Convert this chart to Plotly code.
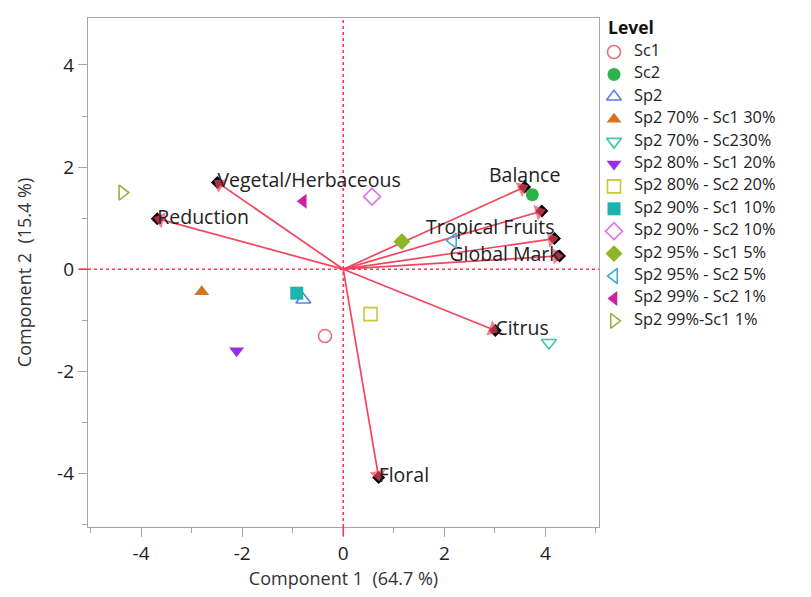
import plotly.graph_objects as go

# ---- data ----
groups = ["Sc1", "Sc2", "Sp2", "Sp2 70% - Sc1 30%", "Sp2 70% - Sc230%",
          "Sp2 80% - Sc1 20%", "Sp2 80% - Sc2 20%", "Sp2 90% - Sc1 10%",
          "Sp2 90% - Sc2 10%", "Sp2 95% - Sc1 5%", "Sp2 95% - Sc2 5%",
          "Sp2 99% - Sc2 1%", "Sp2 99%-Sc1 1%"]
score_pc1 = [-0.36, 3.74, -0.79, -2.80, 4.07, -2.11, 0.54, -0.92, 0.57, 1.16, 2.17, -0.79, -4.37]
score_pc2 = [-1.31, 1.46, -0.60, -0.44, -1.44, -1.60, -0.88, -0.47, 1.42, 0.54, 0.56, 1.33, 1.50]

attributes = ["Vegetal/Herbaceous", "Reduction", "Balance", "", "Tropical Fruits",
              "Global Mark", "Citrus", "Floral"]
load_pc1 = [-2.49, -3.68, 3.59, 3.93, 4.18, 4.28, 3.01, 0.70]
load_pc2 = [1.70, 0.99, 1.61, 1.14, 0.60, 0.26, -1.20, -4.08]

x_ticks = [-4, -2, 0, 2, 4]
x_tick_labels = ["-4", "-2", "0", "2", "4"]
y_ticks = [-4, -2, 0, 2, 4]
y_tick_labels = ["-4", "-2", "0", "2", "4"]

# ---- styles ----
symbols = ["circle-open", "circle", "triangle-up-open", "triangle-up", "triangle-down-open",
           "triangle-down", "square-open", "square", "diamond-open", "diamond",
           "triangle-left-open", "triangle-left", "triangle-right-open"]
colors = ["#E5707C", "#2DB34A", "#5A7FEA", "#D27420", "#3CC8A0",
          "#9A2EE6", "#C9C83A", "#1DB3AE", "#DE72EE", "#8DB524",
          "#3FA9DA", "#CF1FA3", "#9BB043"]
label_pos = ["middle right", "middle right", "top center", "middle right", "top left",
             "middle left", "middle right", "middle right"]
vec_color = "#F2455E"
font_family = "Open Sans, Noto Sans, sans-serif"
text_color = "#222222"

W, H = 811, 597
ML, MR, MT, MB = 88, 0, 18, 70
plot_right_px = 599
area_w = W - ML - MR
area_h = H - MT - MB
main_dom = (plot_right_px - ML) / area_w

fig = go.Figure()

# vectors
for ax, ay in zip(load_pc1, load_pc2):
    fig.add_trace(go.Scatter(
        x=[0, ax], y=[0, ay], mode="lines",
        line=dict(color=vec_color, width=1.7),
        showlegend=False, hoverinfo="skip"))

fig.add_trace(go.Scatter(
    x=load_pc1, y=load_pc2, mode="markers",
    marker=dict(symbol="diamond", size=10, color="black"),
    showlegend=False, hoverinfo="skip"))

for ax, ay in zip(load_pc1, load_pc2):
    fig.add_trace(go.Scatter(
        x=[0, ax], y=[0, ay], mode="markers",
        marker=dict(symbol=["circle", "triangle-up"], size=[0, 14], color=vec_color,
                    angleref="previous", standoff=[0, 3], line=dict(width=0)),
        showlegend=False, hoverinfo="skip"))

fig.add_trace(go.Scatter(
    x=load_pc1, y=load_pc2, mode="text", text=attributes,
    textposition=label_pos,
    textfont=dict(family=font_family, size=19.5, color=text_color),
    showlegend=False, hoverinfo="skip"))

# scores
for g, sx, sy, sym, col in zip(groups, score_pc1, score_pc2, symbols, colors):
    fig.add_trace(go.Scatter(
        x=[sx], y=[sy], mode="markers", name=g, showlegend=False,
        marker=dict(symbol=sym, size=13, color=col,
                    line=dict(color=col, width=1.6 if "open" in sym else 0))))

# ---- manual legend (own hidden axes, pixel units) ----
leg_marker_x = 15
leg_text_x = 35
leg_first_y = 34
leg_step = 22.4
leg_y = [leg_first_y + i * leg_step for i in range(len(groups))]
fig.add_trace(go.Scatter(
    x=[leg_marker_x] * len(groups), y=leg_y, mode="markers",
    xaxis="x2", yaxis="y2", showlegend=False, hoverinfo="skip",
    marker=dict(symbol=symbols, size=13, color=colors,
                line=dict(color=colors, width=[1.6 if "open" in s else 0 for s in symbols]))))
fig.add_trace(go.Scatter(
    x=[leg_text_x] * len(groups), y=leg_y, mode="text", text=groups,
    textposition="middle right", xaxis="x2", yaxis="y2",
    showlegend=False, hoverinfo="skip",
    textfont=dict(family=font_family, size=16.4, color=text_color)))
fig.add_annotation(x=8, y=leg_first_y - 25, xref="x2", yref="y2", text="<b>Level</b>",
                   showarrow=False, xanchor="left", yanchor="middle", borderpad=0,
                   font=dict(family=font_family, size=17.5, color="#111111"))

# zero reference lines
fig.add_shape(type="line", x0=0, x1=0, y0=0, y1=1, xref="x", yref="y domain",
              line=dict(color="#FF3355", width=1.6, dash="dot"), layer="below")
fig.add_shape(type="line", x0=0, x1=1, y0=0, y1=0, xref="x domain", yref="y",
              line=dict(color="#FF3355", width=1.6, dash="dot"), layer="below")
fig.add_shape(type="line", x0=0, x1=0, y0=0, y1=-0.018, xref="x", yref="y domain",
              line=dict(color="#FF3355", width=1.6))
fig.add_shape(type="line", x0=0, x1=-0.018, y0=0, y1=0, xref="x domain", yref="y",
              line=dict(color="#FF3355", width=1.6))

axis_common = dict(
    showgrid=False, zeroline=False, showline=True, mirror=True,
    linecolor="#A6A6A6", linewidth=1.2,
    ticks="outside", ticklen=9, tickcolor="#A6A6A6", tickwidth=1.2,
    tickfont=dict(family=font_family, size=19, color=text_color),
    minor=dict(dtick=1, ticks="outside", ticklen=5, tickcolor="#A6A6A6", tickwidth=1.2),
)

fig.update_layout(
    width=W, height=H,
    margin=dict(l=ML, r=MR, t=MT, b=MB),
    paper_bgcolor="white", plot_bgcolor="white",
    font=dict(family=font_family, color=text_color),
    showlegend=False,
    xaxis=dict(domain=[0, main_dom], range=[-5.05, 5.06],
               tickvals=x_ticks, ticktext=x_tick_labels,
               title=dict(text="Component 1  (64.7 %)", font=dict(size=18, color="#333333"),
                          standoff=4),
               **axis_common),
    yaxis=dict(range=[-5.05, 4.92], tickvals=y_ticks, ticktext=y_tick_labels,
               title=dict(text="Component 2  (15.4 %)", font=dict(size=18, color="#333333"),
                          standoff=20),
               **axis_common),
    xaxis2=dict(domain=[main_dom, 1], range=[0, W - plot_right_px], visible=False,
                fixedrange=True),
    yaxis2=dict(domain=[0, 1], range=[area_h, 0], visible=False, anchor="x2",
                fixedrange=True),
)

fig.write_html("out.html")
